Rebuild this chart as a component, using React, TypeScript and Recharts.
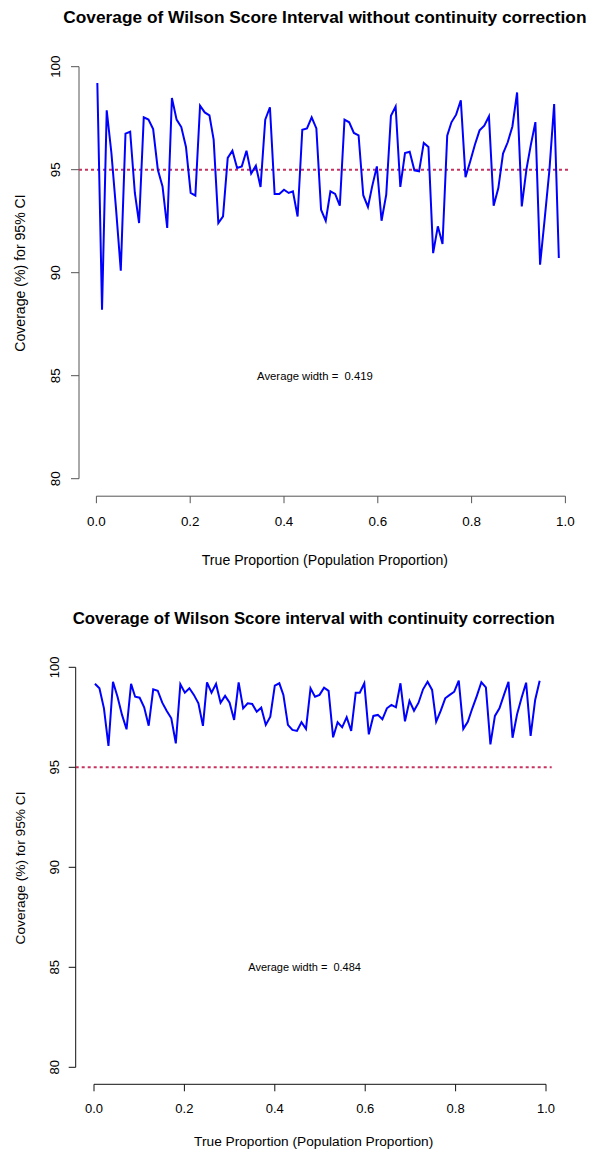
import { LineChart, Line, XAxis, YAxis, ReferenceLine, ReferenceDot } from 'recharts';

// true proportion grid (100 values)
const PROPORTION = [
  0.002, 0.012, 0.022, 0.032, 0.042, 0.052, 0.062, 0.072, 0.082, 0.091,
  0.101, 0.111, 0.121, 0.131, 0.141, 0.151, 0.161, 0.171, 0.181, 0.191,
  0.201, 0.211, 0.221, 0.231, 0.241, 0.25, 0.26, 0.27, 0.28, 0.29,
  0.3, 0.31, 0.32, 0.33, 0.34, 0.35, 0.36, 0.37, 0.38, 0.39,
  0.4, 0.41, 0.419, 0.429, 0.439, 0.449, 0.459, 0.469, 0.479, 0.489,
  0.499, 0.509, 0.519, 0.529, 0.539, 0.549, 0.559, 0.569, 0.579, 0.588,
  0.598, 0.608, 0.618, 0.628, 0.638, 0.648, 0.658, 0.668, 0.678, 0.688,
  0.698, 0.708, 0.718, 0.728, 0.738, 0.748, 0.757, 0.767, 0.777, 0.787,
  0.797, 0.807, 0.817, 0.827, 0.837, 0.847, 0.857, 0.867, 0.877, 0.887,
  0.897, 0.907, 0.917, 0.926, 0.936, 0.946, 0.956, 0.966, 0.976, 0.986,
];

// coverage (%) of the Wilson score interval, no continuity correction
const COVERAGE_WILSON = [
  99.21, 88.2, 97.88, 95.81, 93.06, 90.1, 96.75, 96.84, 93.87, 92.41,
  97.54, 97.43, 96.97, 95.0, 94.19, 92.17, 98.48, 97.43, 97.07, 96.1,
  93.87, 93.74, 98.11, 97.78, 97.64, 96.46, 92.41, 92.73, 95.57, 95.92,
  95.08, 95.16, 95.92, 94.81, 95.19, 94.16, 97.43, 98.03, 93.82, 93.82,
  94.03, 93.87, 93.95, 92.73, 96.94, 97.0, 97.54, 97.0, 93.06, 92.52,
  93.95, 93.82, 93.25, 97.43, 97.3, 96.78, 96.67, 93.76, 93.19, 94.19,
  95.16, 92.52, 93.79, 97.62, 98.07, 94.16, 95.81, 95.87, 94.97, 94.92,
  96.3, 96.1, 90.95, 92.25, 91.39, 96.65, 97.3, 97.67, 98.37, 94.64,
  95.4, 96.21, 96.91, 97.14, 97.59, 93.25, 94.11, 95.78, 96.33, 97.1,
  98.75, 93.22, 95.03, 96.17, 97.31, 90.39, 92.65, 95.0, 98.19, 90.71,
];

// coverage (%) of the Wilson score interval with continuity correction
const COVERAGE_WILSON_CC = [
  99.18, 98.95, 97.95, 96.07, 99.28, 98.53, 97.62, 96.9, 99.17, 98.53,
  98.48, 98.0, 97.08, 98.9, 98.83, 98.23, 97.82, 97.45, 96.2, 99.15,
  98.73, 98.95, 98.62, 98.2, 97.07, 99.25, 98.73, 99.17, 98.23, 98.57,
  98.23, 97.37, 99.25, 97.95, 98.2, 98.17, 97.78, 97.98, 97.12, 97.53,
  99.08, 99.2, 98.62, 97.12, 96.87, 96.82, 97.25, 96.92, 98.95, 98.53,
  98.62, 98.98, 98.82, 96.5, 97.25, 97.0, 97.5, 96.82, 98.73, 98.73,
  99.2, 96.65, 97.57, 97.62, 97.4, 97.95, 98.12, 98.0, 99.2, 97.3,
  98.32, 97.83, 98.23, 98.9, 99.28, 98.87, 97.28, 97.82, 98.45, 98.62,
  98.78, 99.33, 96.92, 97.28, 97.95, 98.57, 99.25, 99.0, 96.15, 97.57,
  97.95, 98.62, 99.28, 96.48, 97.65, 98.48, 99.23, 96.57, 98.37, 99.33,
];

const X_TICKS = [0, 0.2, 0.4, 0.6, 0.8, 1];
const Y_TICKS = [80, 85, 90, 95, 100];
const NOMINAL = 95;

const FONT = '"Liberation Sans", Arial, Helvetica, sans-serif';

const XTick = ({ x, y, payload, gap, size }: any) => (
  <text x={x} y={y + gap} textAnchor="middle" dominantBaseline="central"
    fontSize={size} fontFamily={FONT} fill="#000">
    {Number(payload.value).toFixed(1)}
  </text>
);

const YTick = ({ x, y, payload, gap, size }: any) => (
  <text x={x - gap} y={y} transform={`rotate(-90 ${x - gap} ${y})`} textAnchor="middle"
    fontSize={size} fontFamily={FONT} fill="#000">
    {payload.value}
  </text>
);

type Frame = {
  top: number;
  height: number;
  mTop: number;
  mRight: number;
  yAxisWidth: number;
  xAxisHeight: number;
  xDomain: [number, number];
  yDomain: [number, number];
  axisColor: string;
  xTickGap: number;
  yTickGap: number;
  yTickSize: number;
  tickFont: number;
  labFont: number;
  avgFont: number;
  centerX: number;
  titleY: number;
  titleSize: number;
  xTitleY: number;
  yTitleX: number;
  yTitleY: number;
};

function Panel({ title, values, avgWidth, f }: { title: string; values: number[]; avgWidth: string; f: Frame }) {
  const rows = PROPORTION.map((p, i) => ({ p, coverage: values[i] }));
  return (
    <>
      <div style={{ position: 'absolute', left: 0, top: f.top, width: 590, height: f.height }}>
        <LineChart width={590} height={f.height} data={rows}
          margin={{ top: f.mTop, right: f.mRight, bottom: 0, left: 0 }}>
          <XAxis type="number" dataKey="p" domain={f.xDomain} ticks={X_TICKS} allowDataOverflow
            axisLine={false} tickSize={7} tickMargin={0} tickLine={{ stroke: f.axisColor }}
            tick={<XTick gap={f.xTickGap} size={f.tickFont} />} height={f.xAxisHeight} interval={0} />
          <YAxis type="number" domain={f.yDomain} ticks={Y_TICKS} allowDataOverflow
            axisLine={false} tickSize={f.yTickSize} tickMargin={0} tickLine={{ stroke: f.axisColor }}
            tick={<YTick gap={f.yTickGap} size={f.tickFont} />} width={f.yAxisWidth} interval={0} />
          <ReferenceLine segment={[{ x: 0, y: f.yDomain[0] }, { x: 1, y: f.yDomain[0] }]}
            stroke={f.axisColor} ifOverflow="visible" />
          <ReferenceLine segment={[{ x: f.xDomain[0], y: 80 }, { x: f.xDomain[0], y: 100 }]}
            stroke={f.axisColor} ifOverflow="visible" />
          <ReferenceLine y={NOMINAL} stroke="#C8325E" strokeWidth={2} strokeDasharray="3 3" />
          <Line dataKey="coverage" type="linear" stroke="#0000FF" strokeWidth={2}
            dot={false} isAnimationActive={false} />
          <ReferenceDot x={0.466} y={85} r={0}
            shape={(props: any) => (
              <text x={props.cx} y={props.cy} textAnchor="middle" dominantBaseline="central"
                fontSize={f.avgFont} fontFamily={FONT} fill="#000" style={{ whiteSpace: 'pre' }}>
                {`Average width =  ${avgWidth}`}
              </text>
            )} />
        </LineChart>
      </div>
      <div style={{
        position: 'absolute', left: f.centerX, top: f.top + f.titleY, transform: 'translate(-50%, -50%)',
        whiteSpace: 'nowrap', fontFamily: FONT, fontWeight: 'bold', fontSize: f.titleSize, color: '#000',
      }}>{title}</div>
      <div style={{
        position: 'absolute', left: f.centerX, top: f.top + f.xTitleY, transform: 'translate(-50%, -50%)',
        whiteSpace: 'nowrap', fontFamily: FONT, fontSize: f.labFont, color: '#000',
      }}>True Proportion (Population Proportion)</div>
      <div style={{
        position: 'absolute', left: f.yTitleX, top: f.top + f.yTitleY,
        transform: 'translate(-50%, -50%) rotate(-90deg)',
        whiteSpace: 'nowrap', fontFamily: FONT, fontSize: f.labFont, color: '#000',
      }}>Coverage (%) for 95% CI</div>
    </>
  );
}

const TOP: Frame = {
  top: 0, height: 577, mTop: 50.2, mRight: 19.3, yAxisWidth: 79, xAxisHeight: 80.8,
  xDomain: [-0.0371, 1.0113], yDomain: [79.15, 100.8], axisColor: '#555',
  xTickGap: 17.8, yTickGap: 11, yTickSize: 8, tickFont: 13.4, labFont: 14.1, avgFont: 11.3,
  centerX: 324.9, titleY: 17, titleSize: 17.3, xTitleY: 560, yTitleX: 20, yTitleY: 273,
};

const BOTTOM: Frame = {
  top: 577, height: 577, mTop: 74.3, mRight: 38.3, yAxisWidth: 75.7, xAxisHeight: 69.7,
  xDomain: [-0.0405, 1.0126], yDomain: [79.15, 100.8], axisColor: '#111',
  xTickGap: 16.7, yTickGap: 9.4, yTickSize: 7, tickFont: 13, labFont: 13.7, avgFont: 11,
  centerX: 313.7, titleY: 42, titleSize: 16.8, xTitleY: 564, yTitleX: 20, yTitleY: 291,
};

export default function App() {
  return (
    <div style={{ position: 'absolute', left: 0, top: 0, width: 590, height: 1154, background: '#fff' }}>
      <Panel title="Coverage of Wilson Score Interval without continuity correction"
        values={COVERAGE_WILSON} avgWidth="0.419" f={TOP} />
      <Panel title="Coverage of Wilson Score interval with continuity correction"
        values={COVERAGE_WILSON_CC} avgWidth="0.484" f={BOTTOM} />
    </div>
  );
}
